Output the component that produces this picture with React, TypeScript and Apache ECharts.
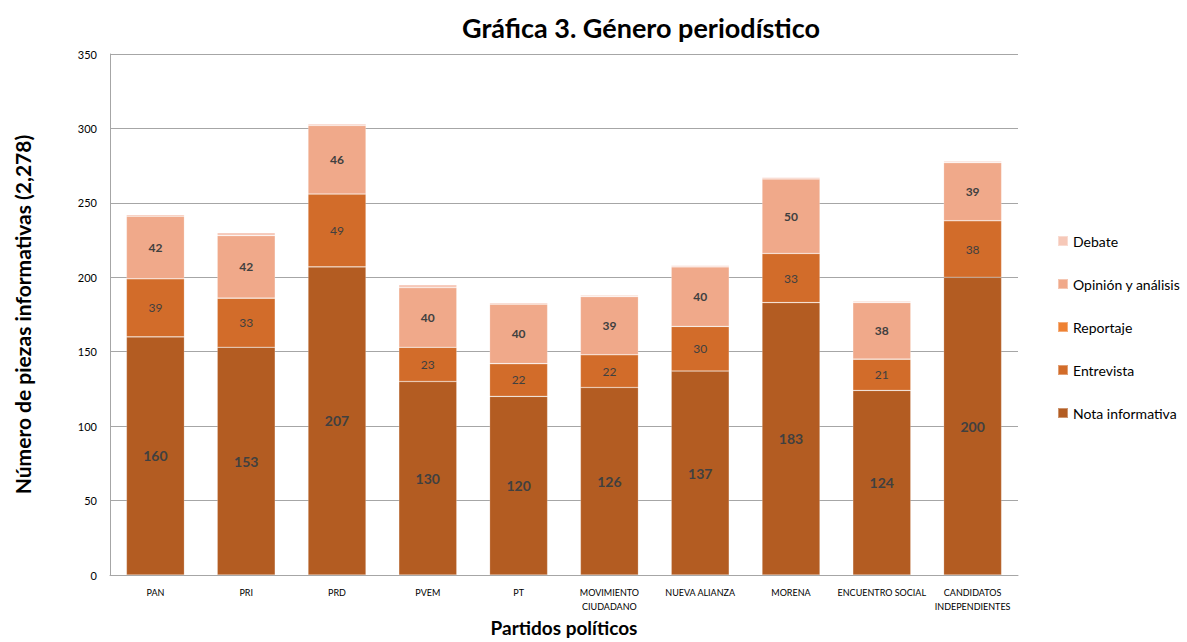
import React, { useEffect, useRef } from "react";
import * as echarts from "echarts";

const categories = ["PAN", "PRI", "PRD", "PVEM", "PT", "MOVIMIENTO\nCIUDADANO", "NUEVA ALIANZA", "MORENA", "ENCUENTRO SOCIAL", "CANDIDATOS\nINDEPENDIENTES"];
const notaInformativa = [160, 153, 207, 130, 120, 126, 137, 183, 124, 200];
const entrevista = [39, 33, 49, 23, 22, 22, 30, 33, 21, 38];
const reportaje = [0, 0, 0, 0, 0, 0, 0, 0, 0, 0];
const opinion = [42, 42, 46, 40, 40, 39, 40, 50, 38, 39];
const debate = [1, 2, 1, 2, 1, 1, 1, 1, 1, 1];
const yTicks = { min: 0, max: 350, interval: 50 };

const FONT = "Lato";

export default function App() {
  const ref = useRef<HTMLDivElement>(null);
  useEffect(() => {
    document.body.style.margin = "0";
    const chart = echarts.init(ref.current!, undefined, { renderer: "svg" });
    const mk = (name: string, data: number[], color: string, label: any) => ({
      name,
      type: "bar",
      stack: "total",
      data,
      barWidth: 58,
      itemStyle: { color, borderColor: "rgba(255,255,255,0.35)", borderWidth: 0.6 },
      label,
    });
    const boldLabel = (size: number) => ({
      show: true,
      position: "inside",
      color: "#404040",
      fontFamily: FONT,
      fontWeight: "bold",
      fontSize: size,
    });
    chart.setOption({
      animation: false,
      textStyle: { fontFamily: FONT },
      title: {
        text: "Gráfica 3. Género periodístico",
        left: 636,
        top: 9,
        textAlign: "center",
        textStyle: { fontFamily: FONT, fontWeight: "bold", fontSize: 27, color: "#000" },
      },
      legend: {
        orient: "vertical",
        left: 1052,
        top: 229,
        itemWidth: 10,
        itemHeight: 10,
        itemGap: 29,
        icon: "rect",
        data: ["Debate", "Opinión y análisis", "Reportaje", "Entrevista", "Nota informativa"],
        textStyle: { fontFamily: FONT, fontSize: 14, color: "#000" },
      },
      grid: { left: 110, right: 169, top: 54, bottom: 67, outerBoundsMode: "none", containLabel: false },
      xAxis: {
        type: "category",
        data: categories,
        name: "Partidos políticos",
        nameLocation: "middle",
        nameGap: 43,
        nameTextStyle: { fontFamily: FONT, fontWeight: "bold", fontSize: 19, color: "#000" },
        axisLine: { lineStyle: { color: "#a6a6a6" } },
        axisTick: { show: false },
        axisLabel: { fontFamily: FONT, fontSize: 9, color: "#000", margin: 10, lineHeight: 14, interval: 0 },
      },
      yAxis: {
        type: "value",
        min: yTicks.min,
        max: yTicks.max,
        interval: yTicks.interval,
        name: "Número de piezas informativas (2,278)",
        nameLocation: "middle",
        nameGap: 77,
        nameTextStyle: { fontFamily: FONT, fontWeight: "bold", fontSize: 21, color: "#000" },
        axisLine: { show: true, lineStyle: { color: "#a6a6a6" } },
        axisTick: { show: false },
        axisLabel: { fontFamily: FONT, fontSize: 11, color: "#000", margin: 13 },
        splitLine: { lineStyle: { color: "#a6a6a6", width: 1.2 } },
      },
      series: [
        mk("Nota informativa", notaInformativa, "#B35C22", boldLabel(14)),
        mk("Entrevista", entrevista, "#D26C2A", { show: true, position: "inside", color: "#404040", fontFamily: FONT, fontSize: 12 }),
        mk("Reportaje", reportaje, "#EE8133", { show: false }),
        mk("Opinión y análisis", opinion, "#F0A98A", boldLabel(12)),
        mk("Debate", debate, "#F6C8B8", { show: false }),
      ],
    });
    return () => chart.dispose();
  }, []);
  return <div ref={ref} style={{ width: 1187, height: 642 }} />;
}
